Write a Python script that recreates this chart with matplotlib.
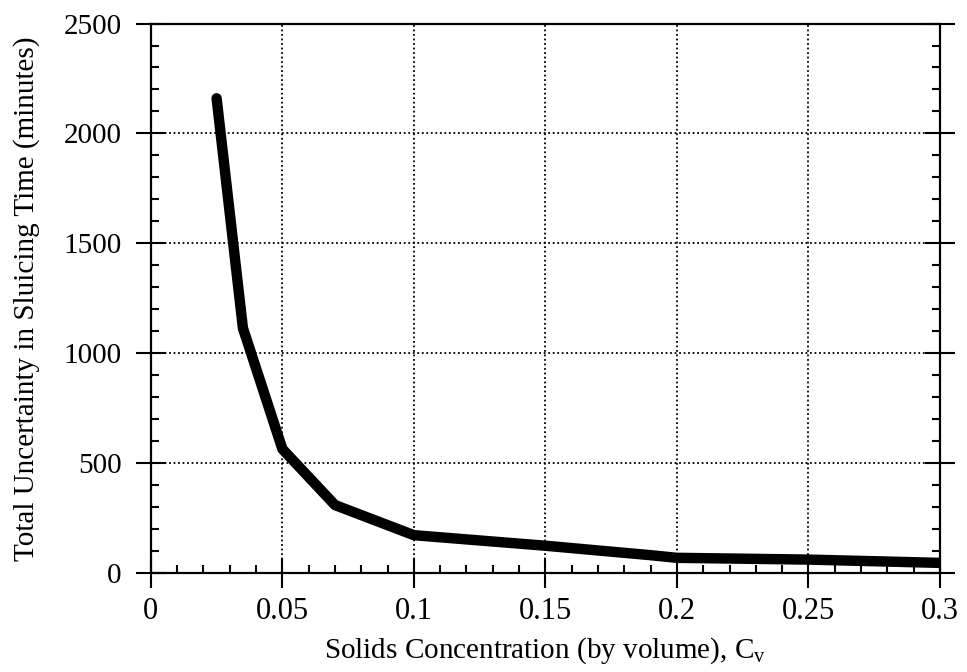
import matplotlib
matplotlib.use("Agg")
import matplotlib.pyplot as plt
from matplotlib.ticker import MultipleLocator

# Solids concentration (by volume) vs total uncertainty in sluicing time (minutes)
cv = [0.025, 0.035, 0.05, 0.07, 0.10, 0.15, 0.19, 0.20, 0.25, 0.30]
uncertainty = [2160, 1115, 565, 310, 173, 125, 82, 70, 62, 47]

x_ticks = [0, 0.05, 0.1, 0.15, 0.2, 0.25, 0.3]
x_tick_labels = ["0", "0.05", "0.1", "0.15", "0.2", "0.25", "0.3"]
y_ticks = [0, 500, 1000, 1500, 2000, 2500]

plt.rcParams["font.family"] = ["Liberation Serif", "DejaVu Serif"]
plt.rcParams["mathtext.default"] = "regular"

fig = plt.figure(figsize=(9.67, 6.72), dpi=100)
ax = fig.add_axes([0.156, 0.147, 0.816, 0.818])

ax.plot(cv, uncertainty, color="black", lw=7.5, solid_capstyle="round",
        solid_joinstyle="round")

ax.set_xlim(0, 0.3)
ax.set_ylim(0, 2500)
ax.set_xticks(x_ticks)
ax.set_xticklabels(x_tick_labels)
ax.set_yticks(y_ticks)
ax.xaxis.set_minor_locator(MultipleLocator(0.01))
ax.yaxis.set_minor_locator(MultipleLocator(100))

ax.grid(True, which="major", color="black", ls=(0, (1.0, 1.5)), lw=1.3)
ax.tick_params(which="major", direction="inout", length=22, width=1.5,
               labelsize=21, left=True, right=True, bottom=True, top=False)
ax.tick_params(axis="x", which="major", pad=6, labelsize=22)
ax.tick_params(axis="y", which="major", pad=10)
ax.tick_params(which="minor", direction="in", length=6, width=1.5,
               left=True, right=True, bottom=True, top=False)
for s in ax.spines.values():
    s.set_linewidth(1.6)

ax.set_xlabel("Solids Concentration (by volume), C$_v$", fontsize=21, labelpad=7)
ax.set_ylabel("Total Uncertainty in Sluicing Time (minutes)", fontsize=21, labelpad=17)

fig.savefig("out.png", dpi=100)
